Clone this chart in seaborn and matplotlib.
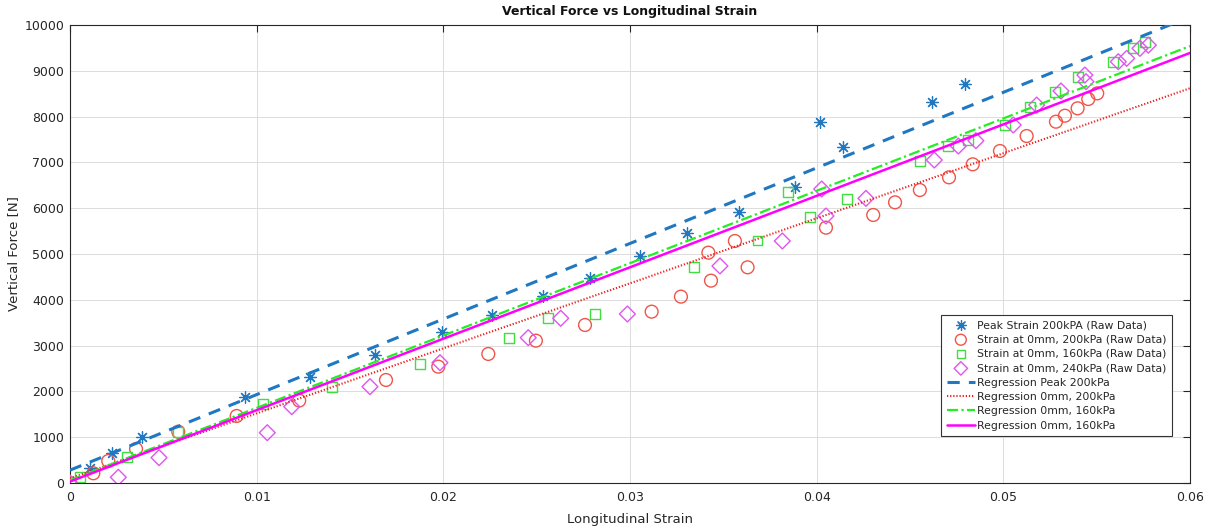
import numpy as np
import pandas as pd
import matplotlib
matplotlib.use("Agg")
import matplotlib.pyplot as plt
import seaborn as sns

# Peak strain, 200 kPa (raw data)
peak200_strain = [0.00107, 0.00223, 0.00384, 0.00937, 0.01286, 0.01634, 0.01991,
                  0.02259, 0.02536, 0.02786, 0.03054, 0.03304, 0.03586, 0.03884,
                  0.04018, 0.04143, 0.04616, 0.04795]
peak200_force = [327, 648, 998, 1871, 2321, 2795, 3304, 3668, 4083, 4469, 4956,
                 5466, 5924, 6470, 7875, 7330, 8326, 8712]

# Strain at 0 mm, 200 kPa (raw data)
s0_200_strain = [0.0, 0.00125, 0.00205, 0.00354, 0.0058, 0.00893, 0.01228, 0.01693,
                 0.01973, 0.02241, 0.02496, 0.02759, 0.03116, 0.03273, 0.03434,
                 0.0342, 0.03562, 0.0363, 0.0405, 0.04303, 0.0442, 0.04553, 0.04709,
                 0.04836, 0.04982, 0.05125, 0.05282, 0.0533, 0.05398, 0.05455,
                 0.05503]
s0_200_force = [0, 212, 480, 742, 1120, 1463, 1800, 2249, 2540, 2817, 3108, 3450,
                3741, 4069, 4418, 5029, 5284, 4709, 5575, 5852, 6128, 6397, 6674,
                6958, 7249, 7576, 7889, 8020, 8181, 8384, 8508]

# Strain at 0 mm, 160 kPa (raw data)
s0_160_strain = [0.00054, 0.00304, 0.0058, 0.01036, 0.01402, 0.01875, 0.02353,
                 0.02559, 0.02812, 0.03345, 0.03683, 0.03964, 0.03848, 0.04161,
                 0.04553, 0.04705, 0.04812, 0.05009, 0.05143, 0.05277, 0.05402,
                 0.05589, 0.05696, 0.05759]
s0_160_force = [138, 574, 1120, 1718, 2103, 2598, 3159, 3596, 3690, 4723, 5295,
                5815, 6360, 6201, 7037, 7358, 7489, 7817, 8216, 8544, 8871, 9199,
                9491, 9636]

# Strain at 0 mm, 240 kPa (raw data)
s0_240_strain = [0.0, 0.00259, 0.00477, 0.01057, 0.01188, 0.01607, 0.01982, 0.02455,
                 0.02629, 0.02986, 0.03482, 0.03816, 0.0405, 0.04027, 0.04264,
                 0.0463, 0.04759, 0.04853, 0.05053, 0.05179, 0.05309, 0.05437,
                 0.05443, 0.05616, 0.05661, 0.05732, 0.05777]
s0_240_force = [0, 124, 553, 1098, 1666, 2103, 2627, 3173, 3596, 3690, 4738, 5284,
                5830, 6419, 6215, 7052, 7358, 7474, 7817, 8253, 8559, 8908, 8762,
                9199, 9272, 9491, 9560]

# Linear regression fits: force = slope * strain + intercept
reg_labels = ["Regression Peak 200kPa", "Regression 0mm, 200kPa",
              "Regression 0mm, 160kPa", "Regression 0mm, 160kPa"]
reg_slopes = [165000, 142000, 158000, 156000]
reg_intercepts = [280, 100, 60, 30]

x_ticks = [0, 0.01, 0.02, 0.03, 0.04, 0.05, 0.06]
x_tick_labels = ["0", "0.01", "0.02", "0.03", "0.04", "0.05", "0.06"]
y_ticks = list(range(0, 10001, 1000))

sns.set_style("white")
plt.rcParams["font.family"] = ["DejaVu Sans"]

fig = plt.figure(figsize=(12.17, 5.29), dpi=100)
ax = fig.add_axes([0.0575, 0.087, 0.9203, 0.8657])

AX_COL = "#262626"
BLUE = "#1f78c1"
RED = "#f0554a"
GREEN = "#3ee03e"
MAGENTA = "#e055f0"

sns.scatterplot(x=peak200_strain, y=peak200_force, marker=(8, 2, 0), s=70,
                color=BLUE, linewidth=0.9, label="Peak Strain 200kPA (Raw Data)",
                ax=ax, zorder=3)
sns.scatterplot(x=s0_200_strain, y=s0_200_force, marker="o", s=85,
                color=RED, facecolor="none", edgecolor=RED, linewidth=1.0,
                label="Strain at 0mm, 200kPa (Raw Data)", ax=ax, zorder=3)
sns.scatterplot(x=s0_160_strain, y=s0_160_force, marker="s", s=50,
                color=GREEN, facecolor="none", edgecolor=GREEN, linewidth=1.0,
                label="Strain at 0mm, 160kPa (Raw Data)", ax=ax, zorder=3)
sns.scatterplot(x=s0_240_strain, y=s0_240_force, marker="D", s=65,
                color=MAGENTA, facecolor="none", edgecolor=MAGENTA, linewidth=1.0,
                label="Strain at 0mm, 240kPa (Raw Data)", ax=ax, zorder=3)

fit_x = np.array([0.0, 0.06])
styles = [
    dict(color=BLUE, linestyle=(0, (4, 3)), linewidth=2.2),
    dict(color="#ee2020", linestyle=(0, (0.6, 0.9)), linewidth=1.5),
    dict(color="#22ee22", linestyle=(0, (5, 1.5, 1, 1.5)), linewidth=1.6),
    dict(color="#ff00ff", linestyle="-", linewidth=1.8),
]
for lab, m, b, st in zip(reg_labels, reg_slopes, reg_intercepts, styles):
    fit = pd.DataFrame({"strain": fit_x, "force": m * fit_x + b})
    sns.lineplot(data=fit, x="strain", y="force", label=lab, ax=ax, zorder=4, **st)

ax.set_xlim(0, 0.06)
ax.set_ylim(0, 10000)
ax.set_xticks(x_ticks)
ax.set_xticklabels(x_tick_labels)
ax.set_yticks(y_ticks)
ax.grid(True, color="#dcdcdc", linewidth=0.7)
ax.set_axisbelow(True)
for sp in ax.spines.values():
    sp.set_color(AX_COL)
    sp.set_linewidth(0.8)
    sp.set_visible(True)
ax.tick_params(direction="in", length=5, width=0.8, colors=AX_COL,
               labelsize=9, top=True, right=True, pad=4)
ax.tick_params(axis="x", pad=6)

ax.set_title("Vertical Force vs Longitudinal Strain", fontsize=9,
             fontweight="bold", color="#111111", pad=7)
ax.set_xlabel("Longitudinal Strain", fontsize=9.5, color=AX_COL, labelpad=6)
ax.set_ylabel("Vertical Force [N]", fontsize=9.5, color=AX_COL, labelpad=3)

leg = ax.legend(loc="lower right", bbox_to_anchor=(1172 / 1217, 93 / 529),
                bbox_transform=fig.transFigure, borderaxespad=0,
                fontsize=7.8, frameon=True, fancybox=False, framealpha=1,
                edgecolor="#333333", handlelength=2.6, labelspacing=0.4,
                handletextpad=0.2, borderpad=0.5, markerscale=0.85)
leg.get_frame().set_linewidth(0.8)
for t in leg.get_texts():
    t.set_color(AX_COL)

fig.savefig("out.png", dpi=100)
